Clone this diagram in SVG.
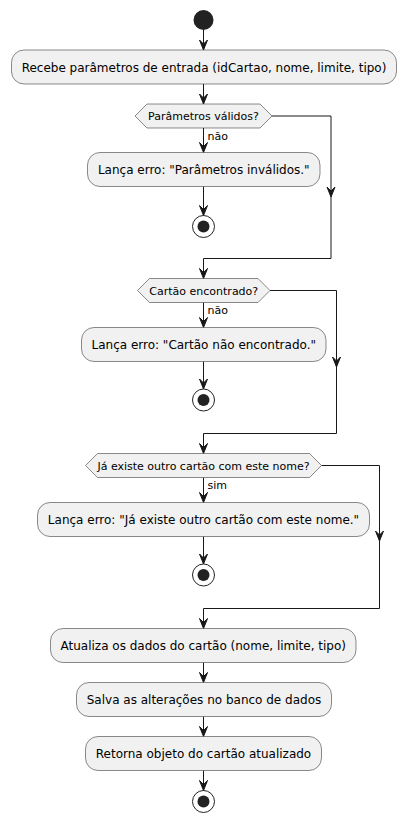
<svg xmlns="http://www.w3.org/2000/svg" xmlns:xlink="http://www.w3.org/1999/xlink" width="406" height="822" viewBox="0 0 406 822">
<style>
.act{fill:#F1F1F1;stroke:#181818;stroke-width:0.5}
.dia{fill:#F1F1F1;stroke:#181818;stroke-width:0.5}
.t12{font-family:"DejaVu Sans","Liberation Sans",sans-serif;font-size:12px;fill:#000;text-anchor:middle}
.t11{font-family:"DejaVu Sans","Liberation Sans",sans-serif;font-size:11px;fill:#000;text-anchor:middle}
.lbl{font-family:"DejaVu Sans","Liberation Sans",sans-serif;font-size:11px;fill:#000}
.ln{fill:none;stroke:#181818;stroke-width:1}
.ah{fill:#181818;stroke:#181818;stroke-width:1}
.start{fill:#222222}
.stopo{fill:none;stroke:#222222;stroke-width:1}
.stopi{fill:#222222}
</style>
<defs>
<polygon id="ah" class="ah" points="-4,-10 0,0 4,-10 0,-6"/>
</defs>
<rect width="406" height="822" fill="#FFFFFF"/>
<g id="connectors">
<path class="ln" d="M203.5,30 V50"/>
<use xlink:href="#ah" x="203.5" y="50"/>
<path class="ln" d="M203.5,84 V104"/>
<use xlink:href="#ah" x="203.5" y="104"/>
<path class="ln" d="M203.5,128 V152.5"/>
<use xlink:href="#ah" x="203.5" y="152.5"/>
<path class="ln" d="M203.5,186.5 V215.5"/>
<use xlink:href="#ah" x="203.5" y="215.5"/>
<path class="ln" d="M272,116 H331 V258.5 H203.5 V278.5"/>
<use xlink:href="#ah" x="331" y="197"/>
<use xlink:href="#ah" x="203.5" y="278.5"/>
<path class="ln" d="M203.5,302.5 V327.5"/>
<use xlink:href="#ah" x="203.5" y="327.5"/>
<path class="ln" d="M203.5,361.5 V389"/>
<use xlink:href="#ah" x="203.5" y="389"/>
<path class="ln" d="M270,290.5 H336.5 V433.5 H203.5 V453.5"/>
<use xlink:href="#ah" x="336.5" y="367"/>
<use xlink:href="#ah" x="203.5" y="453.5"/>
<path class="ln" d="M203.5,477.5 V502.5"/>
<use xlink:href="#ah" x="203.5" y="502.5"/>
<path class="ln" d="M203.5,536.5 V564"/>
<use xlink:href="#ah" x="203.5" y="564"/>
<path class="ln" d="M321.5,465.5 H379.5 V608.5 H203.5 V628.5"/>
<use xlink:href="#ah" x="379.5" y="541"/>
<use xlink:href="#ah" x="203.5" y="628.5"/>
<path class="ln" d="M203.5,662.5 V682.5"/>
<use xlink:href="#ah" x="203.5" y="682.5"/>
<path class="ln" d="M203.5,716.5 V736.5"/>
<use xlink:href="#ah" x="203.5" y="736.5"/>
<path class="ln" d="M203.5,770.5 V790.5"/>
<use xlink:href="#ah" x="203.5" y="790.5"/>
<text class="lbl" x="207.5" y="139.5">não</text>
<text class="lbl" x="207.5" y="313.5">não</text>
<text class="lbl" x="207.5" y="488.5">sim</text>
</g>
<g id="start">
<circle class="start" cx="203.5" cy="20" r="10"/>
</g>
<g id="recebe">
<rect class="act" x="11.5" y="50" width="385" height="34" rx="12.5"/>
<text class="t12" x="204" y="71.5">Recebe parâmetros de entrada (idCartao, nome, limite, tipo)</text>
</g>
<g id="dec-parametros">
<polygon class="dia" points="135,116 147,104 260,104 272,116 260,128 147,128"/>
<text class="t11" x="203.5" y="120">Parâmetros válidos?</text>
</g>
<g id="erro-parametros">
<rect class="act" x="87.5" y="152.5" width="232.5" height="34" rx="12.5"/>
<text class="t12" x="203.75" y="174">Lança erro: "Parâmetros inválidos."</text>
</g>
<g id="stop1">
<circle class="stopo" cx="203.5" cy="226.5" r="11"/>
<circle class="stopi" cx="203.5" cy="226.5" r="6"/>
</g>
<g id="dec-cartao">
<polygon class="dia" points="137.5,290.5 149.5,278.5 258,278.5 270,290.5 258,302.5 149.5,302.5"/>
<text class="t11" x="203.75" y="294.5">Cartão encontrado?</text>
</g>
<g id="erro-cartao">
<rect class="act" x="81.5" y="327.5" width="244.5" height="34" rx="12.5"/>
<text class="t12" x="203.75" y="349">Lança erro: "Cartão não encontrado."</text>
</g>
<g id="stop2">
<circle class="stopo" cx="203.5" cy="400" r="11"/>
<circle class="stopi" cx="203.5" cy="400" r="6"/>
</g>
<g id="dec-nome">
<polygon class="dia" points="85.5,465.5 97.5,453.5 309.5,453.5 321.5,465.5 309.5,477.5 97.5,477.5"/>
<text class="t11" x="203.5" y="469.5">Já existe outro cartão com este nome?</text>
</g>
<g id="erro-nome">
<rect class="act" x="37.5" y="502.5" width="332" height="34" rx="12.5"/>
<text class="t12" x="203.5" y="524">Lança erro: "Já existe outro cartão com este nome."</text>
</g>
<g id="stop3">
<circle class="stopo" cx="203.5" cy="575" r="11"/>
<circle class="stopi" cx="203.5" cy="575" r="6"/>
</g>
<g id="atualiza">
<rect class="act" x="50.5" y="628.5" width="305.5" height="34" rx="12.5"/>
<text class="t12" x="203.25" y="650">Atualiza os dados do cartão (nome, limite, tipo)</text>
</g>
<g id="salva">
<rect class="act" x="76.5" y="682.5" width="255" height="34" rx="12.5"/>
<text class="t12" x="204" y="704">Salva as alterações no banco de dados</text>
</g>
<g id="retorna">
<rect class="act" x="85.5" y="736.5" width="236" height="34" rx="12.5"/>
<text class="t12" x="203.5" y="758">Retorna objeto do cartão atualizado</text>
</g>
<g id="stop4">
<circle class="stopo" cx="203.5" cy="801.5" r="11"/>
<circle class="stopi" cx="203.5" cy="801.5" r="6"/>
</g>
</svg>
